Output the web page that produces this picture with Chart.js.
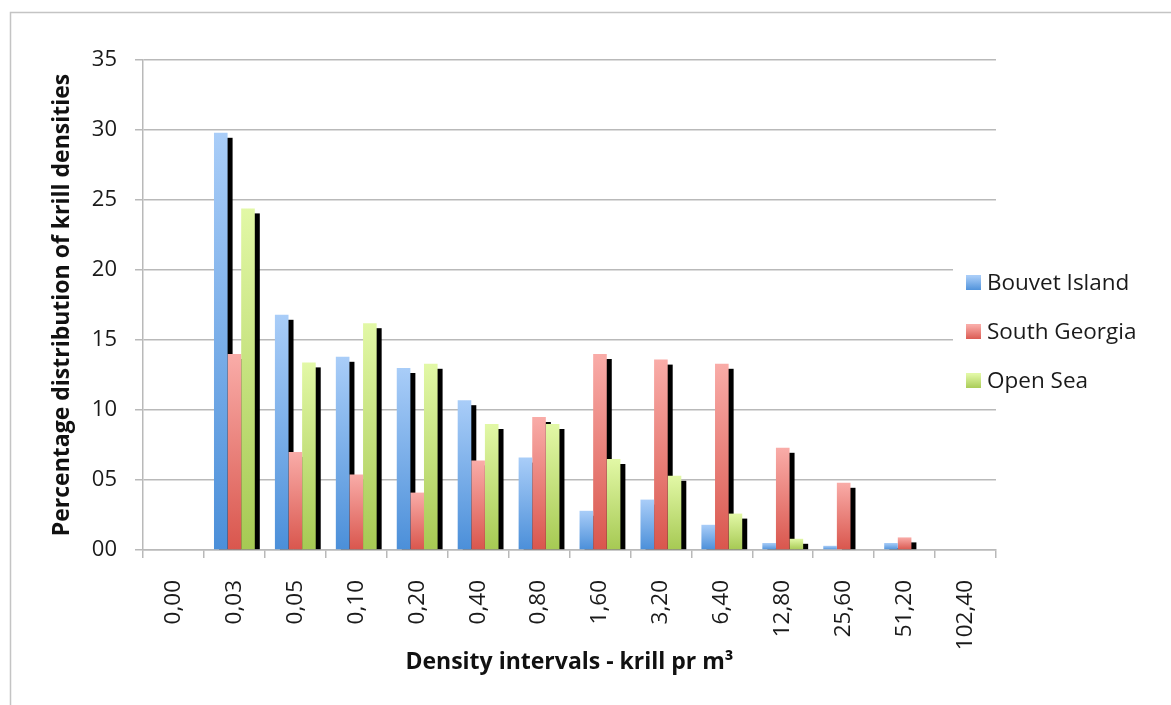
<!DOCTYPE html>
<html>
<head>
<meta charset="utf-8">
<title>Krill density distribution</title>
<script src="https://cdn.jsdelivr.net/npm/chart.js@4.4.1/dist/chart.umd.min.js"></script>
<style>
  html, body { margin: 0; padding: 0; background: #fff; }
  #wrap { width: 1171px; height: 705px; }
</style>
</head>
<body>
<div id="wrap"><canvas id="krillChart" width="1171" height="705"></canvas></div>
<script>
const categories = ['0,00', '0,03', '0,05', '0,10', '0,20', '0,40', '0,80', '1,60', '3,20', '6,40', '12,80', '25,60', '51,20', '102,40'];
const seriesNames = ['Bouvet Island', 'South Georgia', 'Open Sea'];
const bouvetIsland = [0, 29.8, 16.8, 13.8, 13.0, 10.7, 6.6, 2.8, 3.6, 1.8, 0.5, 0.3, 0.5, 0];
const southGeorgia = [0, 14.0, 7.0, 5.4, 4.1, 6.4, 9.5, 14.0, 13.6, 13.3, 7.3, 4.8, 0.9, 0];
const openSea = [0, 24.4, 13.4, 16.2, 13.3, 9.0, 9.0, 6.5, 5.3, 2.6, 0.8, 0, 0, 0];
const yTickLabels = ['00', '05', '10', '15', '20', '25', '30', '35'];

// light top -> darker bottom, like the old Excel bars
const colorPairs = [
  ['#a9cdf8', '#4b8fd9'],
  ['#f9aca8', '#d9564d'],
  ['#e2f8a6', '#a6c953']
];
const FONT = "'Open Sans', sans-serif";
const GRID = '#b9b9b9';

function barFill(pair) {
  return (context) => {
    const chart = context.chart;
    const yScale = chart.scales.y;
    if (!chart.chartArea || !yScale || context.dataIndex === undefined) return pair[1];
    const v = context.dataset.data[context.dataIndex];
    const top = yScale.getPixelForValue(v);
    const base = yScale.getPixelForValue(0);
    if (base - top < 1) return pair[1];
    const g = chart.ctx.createLinearGradient(0, top, 0, base);
    g.addColorStop(0, pair[0]);
    g.addColorStop(1, pair[1]);
    return g;
  };
}

// thin frame round the chart (top and left edges are all that show)
const frame = {
  id: 'frame',
  beforeDraw(chart) {
    const ctx = chart.ctx;
    ctx.save();
    ctx.strokeStyle = '#c4c4c4';
    ctx.lineWidth = 1.5;
    ctx.beginPath();
    ctx.moveTo(10.5, chart.height);
    ctx.lineTo(10.5, 12.5);
    ctx.lineTo(chart.width, 12.5);
    ctx.stroke();
    ctx.restore();
  }
};

// black drop shadow behind each bar
const barShadow = {
  id: 'barShadow',
  beforeDatasetsDraw(chart) {
    const ctx = chart.ctx;
    ctx.save();
    ctx.fillStyle = '#000';
    chart.data.datasets.forEach((ds, i) => {
      chart.getDatasetMeta(i).data.forEach((bar) => {
        const h = bar.base - bar.y - 5;
        if (h > 0) ctx.fillRect(bar.x - bar.width / 2 + 5, bar.y + 5, bar.width, h);
      });
    });
    ctx.restore();
  }
};

// legend box sits over the right end of the plot, white background
const sideLegend = {
  id: 'sideLegend',
  afterDraw(chart) {
    const ctx = chart.ctx;
    const left = chart.chartArea.right - 43;
    ctx.save();
    ctx.fillStyle = '#fff';
    ctx.fillRect(left, 250, 210, 150);
    ctx.font = '22.5px ' + FONT;
    ctx.textBaseline = 'middle';
    ctx.textAlign = 'left';
    chart.data.datasets.forEach((ds, i) => {
      const cy = 283 + i * 49;
      const g = ctx.createLinearGradient(0, cy - 7, 0, cy + 8);
      g.addColorStop(0, colorPairs[i][0]);
      g.addColorStop(1, colorPairs[i][1]);
      ctx.fillStyle = g;
      ctx.fillRect(left + 13, cy - 8, 15, 15);
      ctx.fillStyle = '#1a1a1a';
      ctx.fillText(ds.label, left + 34, cy + 1);
    });
    ctx.restore();
  }
};

const seriesData = [bouvetIsland, southGeorgia, openSea];

new Chart(document.getElementById('krillChart'), {
  type: 'bar',
  data: {
    labels: categories,
    datasets: seriesData.map((values, i) => ({
      label: seriesNames[i],
      data: values,
      backgroundColor: barFill(colorPairs[i]),
      borderWidth: 0,
      categoryPercentage: 0.67,
      barPercentage: 1
    }))
  },
  options: {
    responsive: false,
    animation: false,
    layout: {
      padding: { left: 0, right: 175, top: 60, bottom: 0 }
    },
    scales: {
      x: {
        afterFit: (scale) => { scale.height = 155; },
        grid: {
          drawOnChartArea: false,
          drawTicks: true,
          tickLength: 8,
          color: GRID,
          lineWidth: 1.5
        },
        border: { color: GRID, width: 1.5 },
        ticks: {
          autoSkip: false,
          minRotation: 90,
          maxRotation: 90,
          padding: 22,
          color: '#1a1a1a',
          font: { family: FONT, size: 22.5 }
        },
        title: {
          display: true,
          text: 'Density intervals - krill pr m³',
          color: '#111',
          font: { family: FONT, size: 23, weight: 'bold' },
          padding: { top: 0, bottom: 29 }
        }
      },
      y: {
        min: 0,
        max: 35,
        afterFit: (scale) => { scale.width = 143; },
        grid: {
          color: GRID,
          lineWidth: 1.5,
          tickLength: 8
        },
        border: { color: GRID, width: 1.5 },
        ticks: {
          stepSize: 5,
          padding: 18,
          color: '#1a1a1a',
          font: { family: FONT, size: 22 },
          callback: (value, index) => yTickLabels[index]
        },
        title: {
          display: true,
          text: 'Percentage distribution of krill densities',
          color: '#111',
          font: { family: FONT, size: 23, weight: 'bold' },
          padding: { top: 49, bottom: 0 }
        }
      }
    },
    plugins: {
      legend: { display: false },
      tooltip: { enabled: false }
    }
  },
  plugins: [frame, barShadow, sideLegend]
});
</script>
</body>
</html>
